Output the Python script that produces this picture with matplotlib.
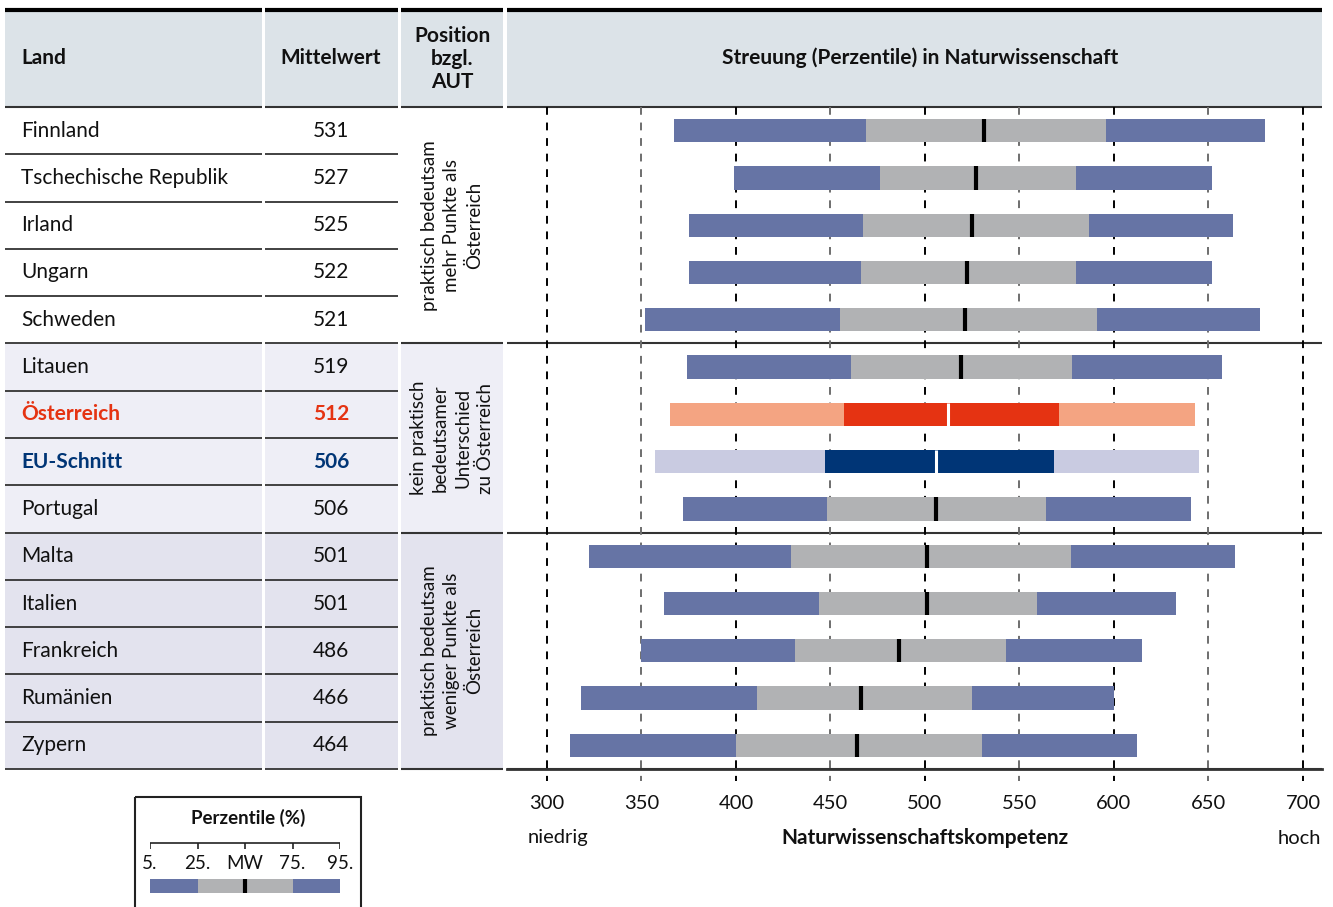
import matplotlib
matplotlib.use("Agg")
import matplotlib.pyplot as plt
from matplotlib.patches import Rectangle

plt.rcParams["font.family"] = ["Lato", "DejaVu Sans"]

# data
countries = ["Finnland", "Tschechische Republik", "Irland", "Ungarn", "Schweden",
             "Litauen", "Österreich", "EU-Schnitt", "Portugal",
             "Malta", "Italien", "Frankreich", "Rumänien", "Zypern"]
means = [531, 527, 525, 522, 521, 519, 512, 506, 506, 501, 501, 486, 466, 464]
p5 = [367, 399, 375, 375, 352, 374, 365, 357, 372, 322, 362, 350, 318, 312]
p25 = [469, 476, 467, 466, 455, 461, 457, 447, 448, 429, 444, 431, 411, 400]
p75 = [596, 580, 587, 580, 591, 578, 571, 568, 564, 577, 559, 543, 525, 530]
p95 = [680, 652, 663, 652, 677, 657, 643, 645, 641, 664, 633, 615, 600, 612]
groups = [0, 0, 0, 0, 0, 1, 1, 1, 1, 2, 2, 2, 2, 2]
group_labels = ["praktisch bedeutsam\nmehr Punkte als\nÖsterreich",
                "kein praktisch\nbedeutsamer\nUnterschied\nzu Österreich",
                "praktisch bedeutsam\nweniger Punkte als\nÖsterreich"]
xticks = [300, 350, 400, 450, 500, 550, 600, 650, 700]
legend_labels = ["5.", "25.", "MW", "75.", "95."]

# colours
BLUE = "#6674a5"
GREY = "#b1b2b4"
HEAD_BG = "#dce3e8"
GROUP_BG = ["#ffffff", "#eeeef6", "#e3e3ee"]
special = {
    "Österreich": ("#f4a482", "#e53312", "#e53312"),
    "EU-Schnitt": ("#c9cbe1", "#003576", "#003576"),
}

W, H = 1333, 907
fig = plt.figure(figsize=(W / 100, H / 100), dpi=100)

# background axes in pixel units for the table layout
bg = fig.add_axes([0, 0, 1, 1])
bg.set_xlim(0, W)
bg.set_ylim(H, 0)
bg.axis("off")

top, head_bot, bottom = 8, 107, 769
row_h = (bottom - head_bot) / len(countries)
cols = [(5, 262), (265, 398), (401, 503), (507, 1322)]

# header
for x0, x1 in cols:
    bg.add_patch(Rectangle((x0, top), x1 - x0, head_bot - top, color=HEAD_BG, lw=0))
    bg.plot([x0, x1], [top + 1.5, top + 1.5], color="black", lw=3, solid_capstyle="butt")
    bg.plot([x0, x1], [head_bot, head_bot], color="#333333", lw=1.5, solid_capstyle="butt")

hkw = dict(fontsize=15, fontweight="bold", va="center", color="#111111")
bg.text(21, 58, "Land", ha="left", **hkw)
bg.text(331, 58, "Mittelwert", ha="center", **hkw)
bg.text(452, 59, "Position\nbzgl.\nAUT", ha="center", linespacing=1.2, **hkw)
bg.text(920, 58, "Streuung (Perzentile) in Naturwissenschaft", ha="center", **hkw)

# table body
for i, (name, m, g) in enumerate(zip(countries, means, groups)):
    y0 = head_bot + i * row_h
    yc = y0 + row_h / 2
    for x0, x1 in cols[:2]:
        bg.add_patch(Rectangle((x0, y0), x1 - x0, row_h, color=GROUP_BG[g], lw=0))
        bg.plot([x0, x1], [y0 + row_h, y0 + row_h], color="#333333", lw=1.3,
                solid_capstyle="butt")
    color, weight = "#111111", "normal"
    if name in special:
        color, weight = special[name][2], "bold"
    bg.text(21, yc, name, ha="left", va="center", fontsize=15, color=color, fontweight=weight)
    bg.text(331, yc, str(m), ha="center", va="center", fontsize=15, color=color,
            fontweight=weight)

# group column and separators
for g, label in enumerate(group_labels):
    idx = [i for i, gg in enumerate(groups) if gg == g]
    y0 = head_bot + idx[0] * row_h
    y1 = head_bot + (idx[-1] + 1) * row_h
    x0, x1 = cols[2]
    bg.add_patch(Rectangle((x0, y0), x1 - x0, y1 - y0, color=GROUP_BG[g], lw=0))
    for cx0, cx1 in cols[2:]:
        bg.plot([cx0, cx1], [y1, y1], color="#333333", lw=1.5, solid_capstyle="butt")
    bg.text(452, (y0 + y1) / 2, label, rotation=90, ha="center", va="center",
            fontsize=13.5, linespacing=1.4, color="#111111", multialignment="center")

# chart axes
ax = fig.add_axes([cols[3][0] / W, 1 - bottom / H, (cols[3][1] - cols[3][0]) / W,
                   (bottom - head_bot) / H])
ax.patch.set_alpha(0)
px_per_unit = (1303 - 547) / 400
ax.set_xlim(300 - (547 - cols[3][0]) / px_per_unit, 700 + (cols[3][1] - 1303) / px_per_unit)
ax.set_ylim(len(countries) - 0.5, -0.5)
for s in ax.spines.values():
    s.set_visible(False)
ax.set_yticks([])

for k, xt in enumerate(xticks):
    ax.vlines(xt, -0.5, len(countries) - 0.5 + 0.25, color="black" if k % 2 == 0 else "#6e6e6e",
              lw=1.4, linestyles=(0, (4, 4)), clip_on=False, zorder=1)

bh = 0.49
for i, name in enumerate(countries):
    outer, inner, _ = special.get(name, (BLUE, GREY, None))
    ax.barh(i, p25[i] - p5[i], left=p5[i], height=bh, color=outer, lw=0, zorder=2)
    ax.barh(i, p75[i] - p25[i], left=p25[i], height=bh, color=inner, lw=0, zorder=2)
    ax.barh(i, p95[i] - p75[i], left=p75[i], height=bh, color=outer, lw=0, zorder=2)
    mcol = "white" if name in special else "black"
    ax.vlines(means[i], i - bh / 2, i + bh / 2, color=mcol, lw=3 if mcol == "black" else 2.2,
              zorder=3)

ax.set_xticks(xticks)
ax.tick_params(axis="x", length=0, pad=19, labelsize=14.5, colors="#111111")
ax.plot([0, 1], [0, 0], transform=ax.transAxes, color="#333333", lw=2, clip_on=False)

bg.text(528, 838, "niedrig", ha="left", va="center", fontsize=14.5, color="#111111")
bg.text(925, 838, "Naturwissenschaftskompetenz", ha="center", va="center", fontsize=15,
        fontweight="bold", color="#111111")
bg.text(1321, 838, "hoch", ha="right", va="center", fontsize=14.5, color="#111111")

# legend key
bg.add_patch(Rectangle((135, 797), 226, 130, fill=False, ec="#222222", lw=1.5, clip_on=False))
bg.text(248, 818, "Perzentile (%)", ha="center", va="center", fontsize=13.5,
        fontweight="bold", color="#111111")
lax = fig.add_axes([150 / W, 1 - 893 / H, 190 / W, (893 - 840) / H])
lax.set_xlim(0, 4)
lax.set_ylim(0, 1)
lax.axis("off")
pos = list(range(len(legend_labels)))
lax.plot([pos[0], pos[-1]], [0.95, 0.95], color="#222222", lw=1.2)
lax.vlines(pos, 0.83, 0.95, color="#222222", lw=1.2)
for p, lab in zip(pos, legend_labels):
    lax.text(p, 0.56, lab, ha="center", va="center", fontsize=13.5, color="#111111")
lax.barh(0.13, pos[1] - pos[0], left=pos[0], height=0.27, color=BLUE, lw=0)
lax.barh(0.13, pos[3] - pos[1], left=pos[1], height=0.27, color=GREY, lw=0)
lax.barh(0.13, pos[4] - pos[3], left=pos[3], height=0.27, color=BLUE, lw=0)
lax.vlines(pos[2], 0.0, 0.27, color="black", lw=3)

fig.savefig("out.png", dpi=100)
